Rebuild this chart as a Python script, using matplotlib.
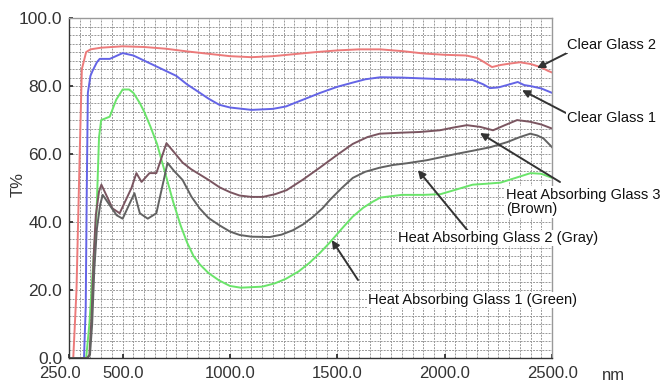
import numpy as np
import matplotlib
matplotlib.use("Agg")
import matplotlib.pyplot as plt
from matplotlib.ticker import MultipleLocator
from matplotlib.transforms import ScaledTranslation

plt.rcParams["font.family"] = ["Liberation Sans", "DejaVu Sans"]

# Clear Glass 2 (red)
red_nm = [250, 270, 285, 300, 310, 330, 350, 400, 500, 600, 700, 800, 900, 1000, 1100,
          1200, 1300, 1400, 1500, 1600, 1700, 1800, 1900, 2000, 2100, 2150, 2190, 2220,
          2260, 2300, 2350, 2400, 2450, 2480, 2500]
red_t = [0, 0, 20, 60, 85, 90, 90.8, 91.3, 91.7, 91.5, 91, 90.2, 89.5, 88.8, 88.5,
         88.8, 89.4, 90, 90.5, 90.8, 90.8, 90.3, 89.6, 89.2, 89, 88.3, 86.8, 85.6,
         86.2, 86.6, 87, 86.5, 85.5, 84.5, 84]

# Clear Glass 1 (blue)
blue_nm = [250, 300, 320, 328, 333, 338, 350, 360, 380, 393, 440, 500, 550, 600, 650, 700,
           750, 800, 860, 900, 950, 1000, 1100, 1200, 1260, 1340, 1420, 1500, 1570, 1630,
           1700, 1800, 1880, 2000, 2130, 2180, 2210, 2250, 2290, 2340, 2370, 2400, 2450,
           2500]
blue_t = [0, 0, 0, 15, 50, 78, 83, 84.5, 87, 88, 88, 89.7, 89, 87.5, 86, 84.5,
          83, 80.5, 78, 76.3, 74.5, 73.7, 73, 73.3, 74, 76, 78, 79.8, 81, 82,
          82.6, 82.5, 82.3, 82, 81.8, 80.5, 79.4, 79.6, 80.3, 81.2, 80.3, 80, 79.3,
          78]

# Heat Absorbing Glass 1 (green)
green_nm = [250, 330, 345, 360, 378, 390, 400, 440, 470, 500, 530, 550, 580, 600, 630, 660,
            700, 735, 770, 800, 830, 860, 900, 950, 1000, 1050, 1150, 1210, 1260, 1320,
            1370, 1420, 1465, 1520, 1570, 1620, 1665, 1700, 1800, 1900, 1980, 2050, 2130,
            2200, 2260, 2330, 2400, 2450, 2500]
green_t = [0, 0, 10, 25, 42, 65, 70, 71, 76, 79, 79, 78, 75, 72.5, 68, 63,
           54, 46, 39, 34, 30, 27.5, 25, 22.8, 21.2, 20.7, 21, 22, 23.3, 25.5,
           28, 31, 34, 38, 41.5, 44.2, 46, 47.2, 48, 48, 48.2, 49.5, 51,
           51.3, 51.6, 53, 54.4, 54.2, 53]

# Heat Absorbing Glass 3 (brown)
brown_nm = [250, 335, 345, 355, 365, 375, 390, 401, 453, 486, 541, 564, 588, 625, 657, 704,
            740, 779, 820, 859, 900, 952, 1000, 1045, 1100, 1153, 1210, 1264, 1340, 1418,
            1500, 1572, 1640, 1697, 1800, 1884, 1977, 2040, 2103, 2165, 2225, 2280, 2337,
            2398, 2450, 2500]
brown_t = [0, 0, 1, 12, 30, 42, 49, 51, 44, 42.6, 50, 54.4, 51.8, 54.4, 54.4, 63.2,
           60.5, 57.5, 55.5, 54, 52.4, 50.2, 48.8, 47.8, 47.4, 47.4, 48.2, 49.4, 52.5, 56,
           59.8, 63, 65, 66, 66.3, 66.5, 67, 67.8, 68.5, 68, 67, 68.5, 70,
           69.5, 68.7, 67.5]

# Heat Absorbing Glass 2 (gray)
gray_nm = [250, 338, 348, 358, 368, 380, 395, 407, 472, 500, 555, 580, 617, 657, 709,
           740, 779, 820, 859, 900, 952, 1000, 1045, 1100, 1185, 1240, 1293, 1340, 1386,
           1430, 1465, 1520, 1572, 1630, 1697, 1760, 1824, 1917, 1977, 2050, 2132, 2211,
           2290, 2350, 2398, 2430, 2460, 2491, 2500]
gray_t = [0, 0, 1, 10, 26, 38, 45, 48, 42, 41, 48.5, 42.6, 41, 42.6, 57.4,
          55, 52.4, 47.5, 44, 41.2, 39, 37.2, 36.2, 35.7, 35.6, 36.3, 37.6, 39.3, 41.5,
          44, 46.5, 50, 53, 54.8, 56, 56.8, 57.3, 58.2, 59, 60, 61, 62,
          63.5, 65, 66, 65.5, 64.6, 62.6, 62]

x_ticks = [250, 500, 1000, 1500, 2000, 2500]
y_ticks = [0, 20, 40, 60, 80, 100]

fig = plt.figure(figsize=(6.6, 3.85), dpi=100)
ax = fig.add_axes([0.1045, 0.070, 0.732, 0.883])

# dense dashed grid
ax.xaxis.set_minor_locator(MultipleLocator(50))
ax.yaxis.set_minor_locator(MultipleLocator(2.5))
ax.grid(which="both", color="#999999", lw=0.7, ls=(0, (2, 1.2)))
ax.set_axisbelow(True)

ax.plot(red_nm, red_t, color="#ec7a7a", lw=1.4)
ax.plot(blue_nm, blue_t, color="#6464e6", lw=1.4)
ax.plot(green_nm, green_t, color="#6ae46a", lw=1.4)
ax.plot(brown_nm, brown_t, color="#7a5560", lw=1.4)
ax.plot(gray_nm, gray_t, color="#626262", lw=1.4)

ax.set_xlim(250, 2500)
ax.set_ylim(0, 100)
ax.set_xticks(x_ticks)
ax.set_xticklabels([f"{v:.1f}" for v in x_ticks])
ax.set_yticks(y_ticks)
ax.set_yticklabels([f"{v:.1f}" for v in y_ticks])
ax.tick_params(which="major", direction="in", length=3, width=1.2, color="#222",
               labelsize=12.5, labelcolor="#333")
ax.tick_params(axis="x", pad=6, labelsize=12)
ax.tick_params(axis="y", pad=5)
ax.tick_params(which="minor", length=0)
# first x label sits a little left of its tick in the original
lbl0 = ax.get_xticklabels()[0]
lbl0.set_transform(lbl0.get_transform() + ScaledTranslation(-9 / 100, 0, fig.dpi_scale_trans))

for s in ax.spines.values():
    s.set_color("#999")
    s.set_linewidth(1.0)
ax.spines["left"].set_color("#333")
ax.spines["bottom"].set_color("#333")

fig.text(0.028, 0.52, "T%", rotation=90, fontsize=12, color="#333", va="center", ha="center")
fig.text(613 / 660, 1 - 376 / 385, "nm", fontsize=12, color="#333", va="center", ha="center")

W, H = 660.0, 385.0


def label(text, head, text_px, tail_px):
    tf = fig.transFigure
    ax.annotate("", xy=head, xycoords="data",
                xytext=(tail_px[0] / W, 1 - tail_px[1] / H), textcoords=tf,
                arrowprops=dict(arrowstyle="-|>", color="#333", lw=1.4,
                                mutation_scale=11, shrinkA=0, shrinkB=0))
    fig.text(text_px[0] / W, 1 - text_px[1] / H, text, fontsize=10.5, color="#111",
             ha="left", va="center", linespacing=1.05,
             bbox=dict(facecolor="white", edgecolor="none", pad=1.0))


label("Clear Glass 2", (2430, 85.3), (567, 45), (567, 53))
label("Clear Glass 1", (2360, 78.8), (567, 118), (566, 113))
label("Heat Absorbing Glass 3\n(Brown)", (2164, 66.2), (506, 202), (560, 182))
label("Heat Absorbing Glass 2 (Gray)", (1875, 55.3), (398, 238), (468, 231))
label("Heat Absorbing Glass 1 (Green)", (1474, 34.7), (368, 300), (358, 280))

fig.savefig("out.png", dpi=100)
